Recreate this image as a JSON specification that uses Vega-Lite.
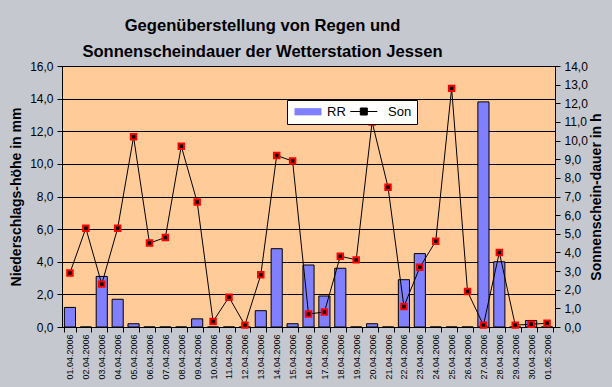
{
  "$schema": "https://vega.github.io/schema/vega-lite/v6.json",
  "width": 493,
  "height": 261,
  "autosize": {"type": "none"},
  "padding": {"left": 62, "top": 66, "right": 57, "bottom": 60},
  "background": "#c6c8d0",
  "title": {
    "text": ["Gegenüberstellung von Regen und", "Sonnenscheindauer der Wetterstation Jessen"],
    "font": "Liberation Sans",
    "fontSize": 16.6,
    "fontWeight": "bold",
    "lineHeight": 26,
    "anchor": "middle",
    "dx": -46,
    "offset": -1,
    "color": "black"
  },
  "config": {
    "view": {"fill": "#ffcc99", "stroke": "black", "strokeWidth": 1},
    "axis": {
      "labelFont": "Liberation Sans",
      "titleFont": "Liberation Sans",
      "labelColor": "black",
      "titleColor": "black",
      "domainColor": "black",
      "tickColor": "black"
    }
  },
  "data": {
    "values": [
      {"Datum": "01.04.2006", "RR": 1.2, "Son": 2.9},
      {"Datum": "02.04.2006", "RR": 0, "Son": 5.3},
      {"Datum": "03.04.2006", "RR": 3.1, "Son": 2.3},
      {"Datum": "04.04.2006", "RR": 1.7, "Son": 5.3},
      {"Datum": "05.04.2006", "RR": 0.2, "Son": 10.2},
      {"Datum": "06.04.2006", "RR": 0, "Son": 4.5},
      {"Datum": "07.04.2006", "RR": 0, "Son": 4.8},
      {"Datum": "08.04.2006", "RR": 0, "Son": 9.7},
      {"Datum": "09.04.2006", "RR": 0.5, "Son": 6.7},
      {"Datum": "10.04.2006", "RR": 0, "Son": 0.3},
      {"Datum": "11.04.2006", "RR": 0, "Son": 1.6},
      {"Datum": "12.04.2006", "RR": 0, "Son": 0.1},
      {"Datum": "13.04.2006", "RR": 1.0, "Son": 2.8},
      {"Datum": "14.04.2006", "RR": 4.8, "Son": 9.2},
      {"Datum": "15.04.2006", "RR": 0.2, "Son": 8.9},
      {"Datum": "16.04.2006", "RR": 3.8, "Son": 0.7},
      {"Datum": "17.04.2006", "RR": 1.9, "Son": 0.8},
      {"Datum": "18.04.2006", "RR": 3.6, "Son": 3.8},
      {"Datum": "19.04.2006", "RR": 0, "Son": 3.6},
      {"Datum": "20.04.2006", "RR": 0.2, "Son": 11.0},
      {"Datum": "21.04.2006", "RR": 0, "Son": 7.5},
      {"Datum": "22.04.2006", "RR": 2.9, "Son": 1.1},
      {"Datum": "23.04.2006", "RR": 4.5, "Son": 3.2},
      {"Datum": "24.04.2006", "RR": 0, "Son": 4.6},
      {"Datum": "25.04.2006", "RR": 0, "Son": 12.8},
      {"Datum": "26.04.2006", "RR": 0, "Son": 1.9},
      {"Datum": "27.04.2006", "RR": 13.8, "Son": 0.1},
      {"Datum": "28.04.2006", "RR": 4.0, "Son": 4.0},
      {"Datum": "29.04.2006", "RR": 0, "Son": 0.1},
      {"Datum": "30.04.2006", "RR": 0.4, "Son": 0.15},
      {"Datum": "01.05.2006", "RR": 0, "Son": 0.2}
    ]
  },
  "encoding": {
    "x": {
      "field": "Datum",
      "type": "nominal",
      "sort": null,
      "scale": {"paddingInner": 0.3, "paddingOuter": 0.15},
      "axis": {
        "title": null,
        "labelAngle": -90,
        "labelFontSize": 9,
        "tickBand": "extent",
        "tickSize": 5,
        "labelPadding": 2,
        "labelOverlap": false,
        "grid": false
      }
    }
  },
  "layer": [
    {
      "mark": {"type": "bar", "stroke": "black", "strokeWidth": 1},
      "encoding": {
        "y": {
          "field": "RR",
          "type": "quantitative",
          "scale": {"domain": [0, 16]},
          "axis": {
            "title": "Niederschlags-höhe in mm",
            "values": [0, 2, 4, 6, 8, 10, 12, 14, 16],
            "grid": true,
            "gridColor": "black",
            "gridOpacity": 1,
            "labelExpr": "replace(format(datum.value,'.1f'),'.',',')",
            "labelFontSize": 12,
            "labelPadding": 4,
            "titleFontSize": 14,
            "titleFontWeight": "bold",
            "tickSize": 5,
            "titlePadding": 6
          }
        },
        "fill": {
          "datum": "RR",
          "type": "nominal",
          "scale": {"domain": ["RR", "Son"], "range": ["#8080ff", "transparent"]},
          "legend": {
            "title": null,
            "orient": "none",
            "legendX": 225,
            "legendY": 34,
            "direction": "horizontal",
            "fillColor": "white",
            "strokeColor": "black",
            "padding": 5,
            "labelFont": "Liberation Sans",
            "labelFontSize": 13,
            "labelColor": "black",
            "symbolType": "M-1,-0.9H5.75V0.9H-1Z",
            "symbolSize": 64,
            "symbolStrokeWidth": 0,
            "columnPadding": 7,
            "labelOffset": 22
          }
        }
      }
    },
    {
      "mark": {"type": "line", "strokeWidth": 1},
      "encoding": {
        "y": {
          "field": "Son",
          "type": "quantitative",
          "scale": {"domain": [0, 14]},
          "axis": {
            "orient": "right",
            "title": "Sonnenschein-dauer in h",
            "values": [0, 1, 2, 3, 4, 5, 6, 7, 8, 9, 10, 11, 12, 13, 14],
            "grid": false,
            "labelExpr": "replace(format(datum.value,'.1f'),'.',',')",
            "labelFontSize": 12,
            "labelPadding": 4,
            "titleFontSize": 14,
            "titleFontWeight": "bold",
            "titleAngle": 270,
            "titleBaseline": "top",
            "tickSize": 5,
            "titlePadding": 2
          }
        },
        "stroke": {
          "datum": "Son",
          "type": "nominal",
          "scale": {"domain": ["Son"], "range": ["black"]},
          "legend": {
            "title": null,
            "orient": "none",
            "legendX": 285.8,
            "legendY": 39,
            "direction": "horizontal",
            "padding": 0,
            "labelFont": "Liberation Sans",
            "labelFontSize": 13,
            "labelExpr": "' '",
            "symbolType": "M-1,0H5.75M1.5,-0.875H3.25V0.875H1.5Z",
            "symbolSize": 64,
            "symbolStrokeWidth": 1,
            "symbolFillColor": "black",
            "labelOffset": 22
          }
        }
      }
    },
    {
      "mark": {"type": "point", "shape": "square", "filled": true, "fill": "black", "stroke": "red", "strokeWidth": 2, "size": 30, "opacity": 1},
      "encoding": {
        "y": {"field": "Son", "type": "quantitative", "scale": {"domain": [0, 14]}, "axis": null}
      }
    }
  ],
  "resolve": {"scale": {"y": "independent"}}
}
